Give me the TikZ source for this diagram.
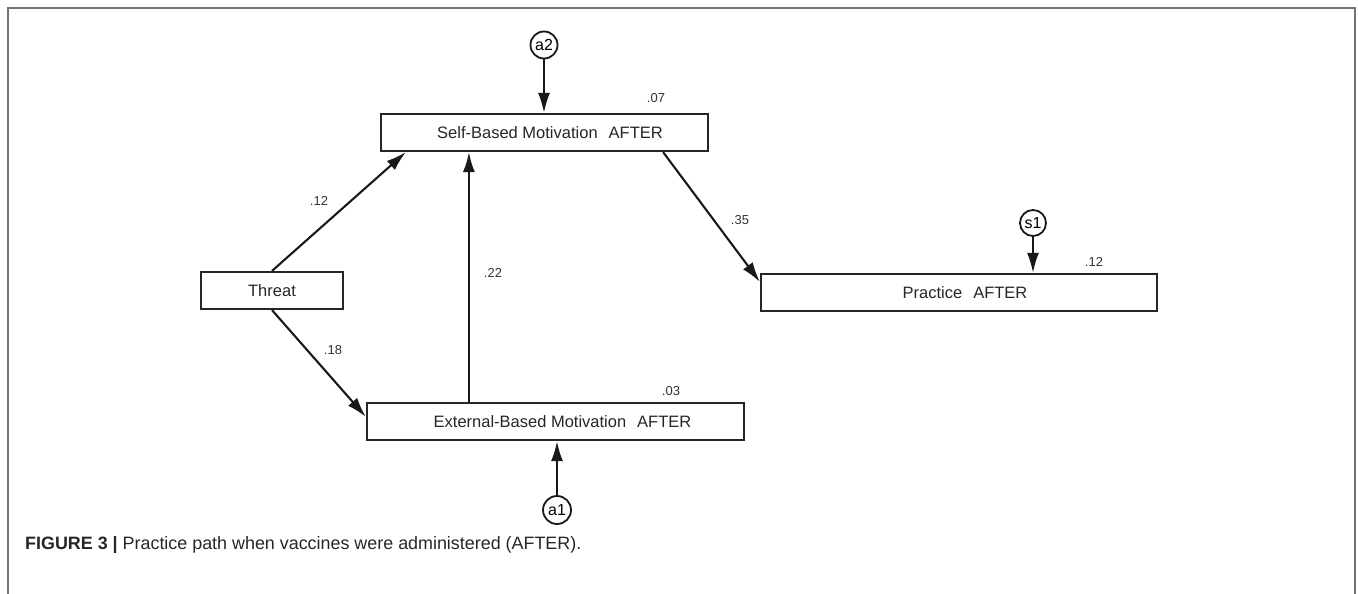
\documentclass[tikz,border=0pt]{standalone}
\usepackage{fontspec}
\setmainfont{Liberation Sans}
\usetikzlibrary{arrows.meta,calc}
\begin{document}
\begin{tikzpicture}[x=1pt,y=-1pt,
  box/.style={draw=black!85,line width=2.2pt,rectangle,inner sep=0pt,minimum height=37pt,font=\fontsize{16.5}{18}\selectfont,text=black!85},
  err/.style={draw=black!90,line width=1.8pt,circle,inner sep=0pt,minimum size=27pt,font=\fontsize{16}{17}\selectfont},
  coef/.style={font=\fontsize{13}{14}\selectfont,text=black!80,inner sep=0pt},
  path/.style={line width=2.1pt,draw=black!90,-{Latex[length=20pt,width=12pt]}},
  frame/.style={draw=black!55,line width=1.6pt}]
\useasboundingbox (0,0) rectangle (1358,594);
\draw[frame] (8,594) -- (8,8) -- (1355,8) -- (1355,594);
% boxes
\node[box,minimum width=327pt] (self) at (544.5,132.5) {\hspace*{11pt}Self-Based Motivation\hspace{11pt}AFTER};
\node[box,minimum width=142pt] (threat) at (272,290.5) {Threat};
\node[box,minimum width=377pt] (ext) at (555.5,421.5) {\hspace*{14pt}External-Based Motivation\hspace{11pt}AFTER};
\node[box,minimum width=396pt] (prac) at (959,292.5) {\hspace*{12pt}Practice\hspace{11pt}AFTER};
% error terms
\node[err] (a2) at (544,45) {a2};
\node[err,minimum size=28pt] (a1) at (557,510) {a1};
\node[err,minimum size=26pt] (s1) at (1033,223) {s1};
% connectors
\draw[path] (a2) -- (a2 |- self.north);
\draw[path] (a1) -- (a1 |- ext.south);
\draw[path] (s1) -- (s1 |- prac.north);
\coordinate (tsTip) at ($(self.south west)+(26,0)$);
\draw[path] (threat.north) -- (tsTip);
\coordinate (teTip) at ($(ext.north west)+(0,15)$);
\draw[path] (threat.south) -- (teTip);
\coordinate (esStart) at ($(ext.north west)+(103,0)$);
\draw[path] (esStart) -- (esStart |- self.south);
\coordinate (spStart) at ($(self.south east)+(-46,0)$);
\coordinate (spTip) at ($(prac.north west)+(0,9)$);
\draw[path] (spStart) -- (spTip);
% coefficients
\node[coef] (r07) at (656,98) {.07};
\node[coef] (c12) at (319,201) {.12};
\node[coef] (c22) at (493,273) {.22};
\node[coef] (c35) at (740,220) {.35};
\node[coef] (c18) at (333,350) {.18};
\node[coef] (r03) at (671,391) {.03};
\node[coef] (r12) at (1094,262) {.12};
% caption
\node[anchor=west,inner sep=0pt,font=\fontsize{17.9}{19}\selectfont,text=black!85] (cap) at (25,545) {\textbf{FIGURE 3 |} Practice path when vaccines were administered (AFTER).};
\end{tikzpicture}
\end{document}
